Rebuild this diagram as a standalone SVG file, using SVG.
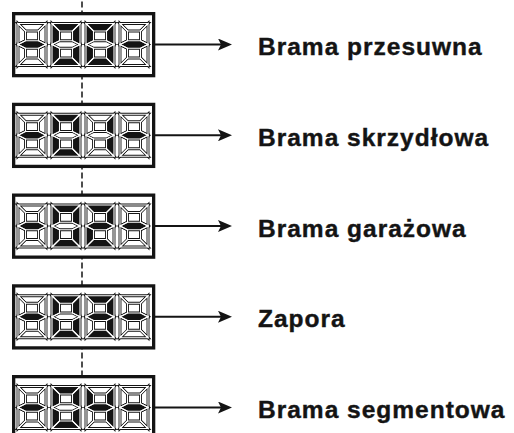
<svg xmlns="http://www.w3.org/2000/svg" xmlns:xlink="http://www.w3.org/1999/xlink" width="514" height="433" viewBox="0 0 514 433">
<style>
.box{fill:#fff;stroke:#141414;stroke-width:3.3}
.on{fill:#141414;stroke:#141414;stroke-width:2.9;stroke-linejoin:miter}
.off{fill:#fff;stroke:#141414;stroke-width:2.9;stroke-linejoin:miter}
.lbl{font-family:"Liberation Sans",Arial,sans-serif;font-weight:bold;font-size:24.5px;letter-spacing:1px;fill:#141414;stroke:#141414;stroke-width:0.4}
.arr{stroke:#141414;stroke-width:2;fill:none}
.dash{stroke:#141414;stroke-width:1.5;stroke-dasharray:6 3;fill:none}
</style>
<defs>
<path id="sa" d="M0,0 H28 L20.5,7.5 H7.5 Z"/>
<path id="sb" d="M28,0 V21 L20.5,17.25 V7.5 Z"/>
<path id="sc" d="M28,21 V42 L20.5,34.5 V24.75 Z"/>
<path id="sd" d="M0,42 H28 L20.5,34.5 H7.5 Z"/>
<path id="se" d="M0,21 V42 L7.5,34.5 V24.75 Z"/>
<path id="sf" d="M0,0 V21 L7.5,17.25 V7.5 Z"/>
<path id="sg" d="M0,21 L7.5,17.25 H20.5 L28,21 L20.5,24.75 H7.5 Z"/>
<g id="grid" fill="none" stroke="#fff" stroke-width="1.1">
<use xlink:href="#sa"/><use xlink:href="#sb"/><use xlink:href="#sc"/><use xlink:href="#sd"/><use xlink:href="#se"/><use xlink:href="#sf"/><use xlink:href="#sg"/>
</g>
<g id="dm"><use xlink:href="#sa" class="off"/><use xlink:href="#sb" class="off"/><use xlink:href="#sc" class="off"/><use xlink:href="#sd" class="off"/><use xlink:href="#se" class="off"/><use xlink:href="#sf" class="off"/><use xlink:href="#sg" class="on"/><use xlink:href="#grid"/></g>
<g id="d0"><use xlink:href="#sa" class="on"/><use xlink:href="#sb" class="on"/><use xlink:href="#sc" class="on"/><use xlink:href="#sd" class="on"/><use xlink:href="#se" class="on"/><use xlink:href="#sf" class="on"/><use xlink:href="#sg" class="off"/><use xlink:href="#grid"/></g>
<g id="d1"><use xlink:href="#sa" class="off"/><use xlink:href="#sb" class="on"/><use xlink:href="#sc" class="on"/><use xlink:href="#sd" class="off"/><use xlink:href="#se" class="off"/><use xlink:href="#sf" class="off"/><use xlink:href="#sg" class="off"/><use xlink:href="#grid"/></g>
<g id="d2"><use xlink:href="#sa" class="on"/><use xlink:href="#sb" class="on"/><use xlink:href="#sc" class="off"/><use xlink:href="#sd" class="on"/><use xlink:href="#se" class="on"/><use xlink:href="#sf" class="off"/><use xlink:href="#sg" class="on"/><use xlink:href="#grid"/></g>
<g id="d3"><use xlink:href="#sa" class="on"/><use xlink:href="#sb" class="on"/><use xlink:href="#sc" class="on"/><use xlink:href="#sd" class="on"/><use xlink:href="#se" class="off"/><use xlink:href="#sf" class="off"/><use xlink:href="#sg" class="on"/><use xlink:href="#grid"/></g>
<g id="d4"><use xlink:href="#sa" class="off"/><use xlink:href="#sb" class="on"/><use xlink:href="#sc" class="on"/><use xlink:href="#sd" class="off"/><use xlink:href="#se" class="off"/><use xlink:href="#sf" class="on"/><use xlink:href="#sg" class="on"/><use xlink:href="#grid"/></g>
<marker id="ah" viewBox="0 0 14 12" refX="8" refY="6" markerWidth="14" markerHeight="12" markerUnits="userSpaceOnUse" orient="auto">
<path d="M0,0 L14,6 L0,12 L3,6 Z" fill="#141414"/>
</marker>
</defs>

<g id="connectors">
<line class="dash" x1="82" y1="1.5" x2="82" y2="433"/>
<line class="arr" x1="155" y1="44.5" x2="226" y2="44.5" marker-end="url(#ah)"/>
<line class="arr" x1="155" y1="135.25" x2="226" y2="135.25" marker-end="url(#ah)"/>
<line class="arr" x1="155" y1="226" x2="226" y2="226" marker-end="url(#ah)"/>
<line class="arr" x1="155" y1="316.75" x2="226" y2="316.75" marker-end="url(#ah)"/>
<line class="arr" x1="155" y1="407.5" x2="226" y2="407.5" marker-end="url(#ah)"/>
</g>

<g id="node1" transform="translate(0,12)">
<rect class="box" x="13.65" y="1.65" width="140" height="62"/>
<use xlink:href="#dm" x="18" y="11.5"/><use xlink:href="#d0" x="52" y="11.5"/><use xlink:href="#d0" x="86" y="11.5"/><use xlink:href="#dm" x="120" y="11.5"/>
<text class="lbl" x="258" y="43">Brama przesuwna</text>
</g>
<g id="node2" transform="translate(0,102.75)">
<rect class="box" x="13.65" y="1.65" width="140" height="62"/>
<use xlink:href="#dm" x="18" y="11.5"/><use xlink:href="#d0" x="52" y="11.5"/><use xlink:href="#d1" x="86" y="11.5"/><use xlink:href="#dm" x="120" y="11.5"/>
<text class="lbl" x="258" y="43">Brama skrzydłowa</text>
</g>
<g id="node3" transform="translate(0,193.5)">
<rect class="box" x="13.65" y="1.65" width="140" height="62"/>
<use xlink:href="#dm" x="18" y="11.5"/><use xlink:href="#d0" x="52" y="11.5"/><use xlink:href="#d2" x="86" y="11.5"/><use xlink:href="#dm" x="120" y="11.5"/>
<text class="lbl" x="258" y="43">Brama garażowa</text>
</g>
<g id="node4" transform="translate(0,284.25)">
<rect class="box" x="13.65" y="1.65" width="140" height="62"/>
<use xlink:href="#dm" x="18" y="11.5"/><use xlink:href="#d0" x="52" y="11.5"/><use xlink:href="#d3" x="86" y="11.5"/><use xlink:href="#dm" x="120" y="11.5"/>
<text class="lbl" x="258" y="43">Zapora</text>
</g>
<g id="node5" transform="translate(0,375)">
<rect class="box" x="13.65" y="1.65" width="140" height="62"/>
<use xlink:href="#dm" x="18" y="11.5"/><use xlink:href="#d0" x="52" y="11.5"/><use xlink:href="#d4" x="86" y="11.5"/><use xlink:href="#dm" x="120" y="11.5"/>
<text class="lbl" x="258" y="43">Brama segmentowa</text>
</g>
</svg>
